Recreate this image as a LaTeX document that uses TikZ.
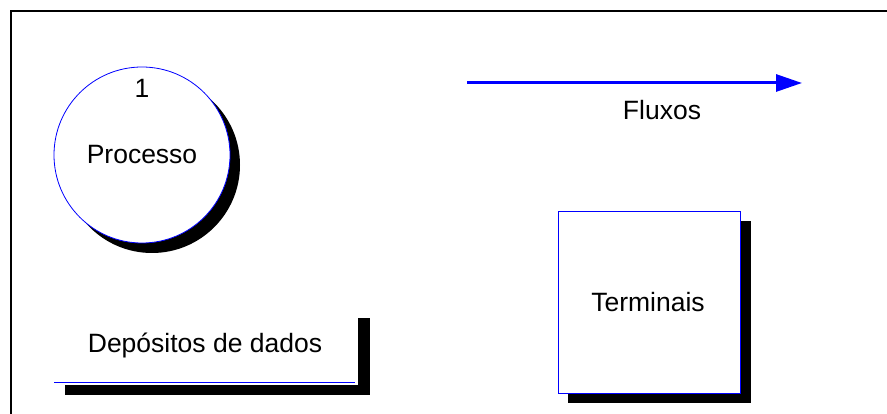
\documentclass[tikz,border=0pt]{standalone}
\usepackage{fontspec}
\setmainfont{Liberation Sans}
\usetikzlibrary{arrows.meta}
\definecolor{dfdblue}{RGB}{0,0,255}
\tikzset{
  lbl/.style={inner sep=0pt, font=\fontsize{26.5}{31}\selectfont},
  shadowshape/.style={fill=black, draw=none, inner sep=0pt},
  mainshape/.style={fill=white, draw=dfdblue, line width=0.8pt, inner sep=0pt},
  frameline/.style={line width=2pt, black},
  flow/.style={dfdblue, line width=3pt, -{Triangle[length=26pt,width=17pt]}}
}
\begin{document}
\begin{tikzpicture}[x=1pt,y=-1pt]
  \useasboundingbox (0,0) rectangle (887,414);
  % outer frame (top and left edges)
  \coordinate (fa) at (11,414);
  \coordinate (fb) at (11,11);
  \coordinate (fc) at (887,11);
  \draw[frameline] (fa) -- (fb) -- (fc);

  % process: circle with drop shadow
  \node[shadowshape, circle, minimum size=176pt] (procsh) at (152,165) {};
  \node[mainshape, circle, minimum size=176pt] (proc) at (142,155) {};
  \node[lbl] (procnum) at (142,88) {1};
  \node[lbl] (proctxt) at (142,155) {Processo};

  % data store: open bar with L-shaped shadow
  \node[shadowshape, minimum width=12pt, minimum height=77pt] (storeshv) at (364,356.5) {};
  \node[shadowshape, minimum width=305pt, minimum height=10pt] (storeshh) at (217.5,390) {};
  \coordinate (sa) at (54,382);
  \coordinate (sb) at (355,382);
  \draw[dfdblue, line width=0.8pt] (sa) -- (sb);
  \node[lbl] (storetxt) at (205,345) {Depósitos de dados};

  % flow arrow
  \coordinate (fl1) at (467,83);
  \coordinate (fl2) at (802,83);
  \draw[flow] (fl1) -- (fl2);
  \node[lbl] (flowtxt) at (662,110) {Fluxos};

  % terminator: square with drop shadow
  \node[shadowshape, minimum width=183pt, minimum height=182pt] (termsh) at (659.5,312) {};
  \node[mainshape, minimum width=182pt, minimum height=182pt] (term) at (649,302) {};
  \node[lbl] (termtxt) at (648,302) {Terminais};
\end{tikzpicture}
\end{document}
